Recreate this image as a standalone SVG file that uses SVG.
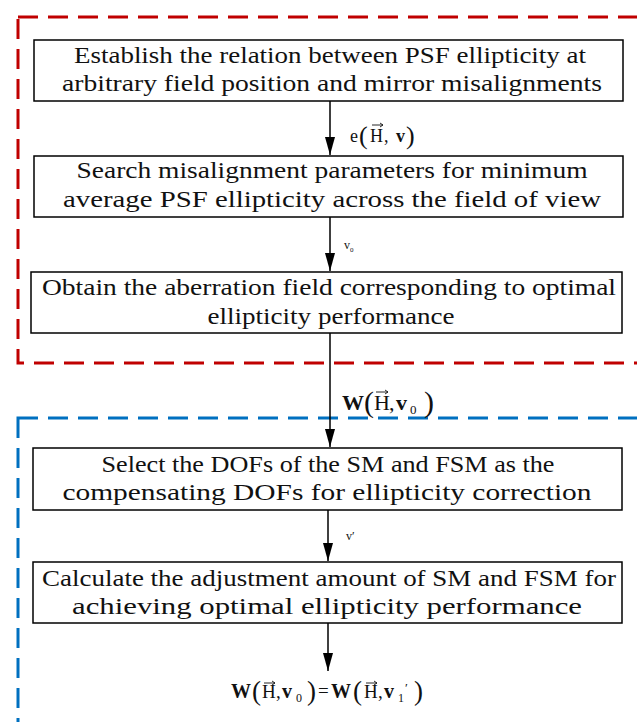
<svg xmlns="http://www.w3.org/2000/svg" width="637" height="722" viewBox="0 0 637 722">
<style>
.box{fill:#fff;stroke:#000;stroke-width:1.5}
.t{font-family:'Liberation Serif',serif;font-size:23px;fill:#111;text-anchor:middle}
.m{font-family:'Liberation Serif',serif;fill:#111}
.b{font-weight:bold}
.line{stroke:#000;stroke-width:1.5;fill:none}
.red{fill:none;stroke:#c00000;stroke-width:3;stroke-dasharray:20 10}
.blue{fill:none;stroke:#0070c0;stroke-width:3;stroke-dasharray:20 10}
.vec{stroke:#111;stroke-width:0.9;fill:none}
</style>
<rect class="red" x="18" y="17" width="640" height="346"/>
<rect class="blue" x="18" y="418" width="640" height="330"/>
<g id="connectors">
<line class="line" x1="330" y1="101" x2="330" y2="155"/>
<path d="M325,137 L335,137 L330,155 Z" fill="#000"/>
<line class="line" x1="330" y1="217" x2="330" y2="271"/>
<path d="M325,253 L335,253 L330,271 Z" fill="#000"/>
<line class="line" x1="330" y1="333" x2="330" y2="447"/>
<path d="M325,429 L335,429 L330,447 Z" fill="#000"/>
<line class="line" x1="328" y1="510" x2="328" y2="561"/>
<path d="M323,543 L333,543 L328,561 Z" fill="#000"/>
<line class="line" x1="328" y1="623" x2="328" y2="671"/>
<path d="M323,653 L333,653 L328,671 Z" fill="#000"/>
<g id="lbl1" class="m">
<text x="350" y="142" font-size="18">e</text>
<text x="359" y="144" font-size="26">(</text>
<text x="370" y="142" font-size="18">H</text>
<text x="384" y="142" font-size="18">,</text>
<text x="396" y="142" font-size="18" class="b">v</text>
<text x="406" y="144" font-size="26">)</text>
<path class="vec" d="M372,125 L383,125 M380,123 L383,125 L380,127"/>
</g>
<g id="lbl2">
<text class="m" x="344" y="249" font-size="12" fill="#555">v<tspan font-size="7" dy="3">0</tspan></text>
</g>
<g id="lbl3" class="m">
<text x="342" y="410" font-size="22" class="b">W</text>
<text x="364" y="412" font-size="30">(</text>
<text x="374" y="410" font-size="22">H</text>
<text x="389" y="410" font-size="22">,</text>
<text x="396" y="410" font-size="22" class="b">v</text>
<text x="410" y="414" font-size="13">0</text>
<text x="424" y="412" font-size="30">)</text>
<path class="vec" d="M376,392 L388,392 M385,390 L388,392 L385,394"/>
</g>
<g id="lbl4">
<text class="m" x="346" y="540" font-size="12" fill="#555">v′</text>
</g>
<g id="lbl5" class="m">
<text x="231" y="698" font-size="20" class="b">W</text>
<text x="252" y="700" font-size="27">(</text>
<text x="262" y="698" font-size="19">H</text>
<text x="276" y="698" font-size="19">,</text>
<text x="282" y="698" font-size="20" class="b">v</text>
<text x="296" y="702" font-size="12">0</text>
<text x="307" y="700" font-size="27">)</text>
<text x="318" y="697" font-size="19">=</text>
<text x="331" y="698" font-size="20" class="b">W</text>
<text x="353" y="700" font-size="27">(</text>
<text x="364" y="698" font-size="19">H</text>
<text x="378" y="698" font-size="19">,</text>
<text x="384" y="698" font-size="20" class="b">v</text>
<text x="398" y="702" font-size="12">1</text>
<text x="405" y="692" font-size="13">′</text>
<text x="414" y="700" font-size="27">)</text>
<path class="vec" d="M264,683 L275,683 M272,681 L275,683 L272,685"/>
<path class="vec" d="M366,683 L377,683 M374,681 L377,683 L374,685"/>
</g>
</g>
<g id="n1">
<rect class="box" x="34" y="40" width="589" height="61"/>
<text class="t" x="330" y="63" textLength="512" lengthAdjust="spacingAndGlyphs">Establish the relation between PSF ellipticity at</text>
<text class="t" x="332" y="91" textLength="540" lengthAdjust="spacingAndGlyphs">arbitrary field position and mirror misalignments</text>
</g>
<g id="n2">
<rect class="box" x="34" y="156" width="589" height="61"/>
<text class="t" x="332" y="178" textLength="511" lengthAdjust="spacingAndGlyphs">Search misalignment parameters for minimum</text>
<text class="t" x="332" y="207" textLength="538" lengthAdjust="spacingAndGlyphs">average PSF ellipticity across the field of view</text>
</g>
<g id="n3">
<rect class="box" x="31" y="272" width="591" height="61"/>
<text class="t" x="329" y="295" textLength="574" lengthAdjust="spacingAndGlyphs">Obtain the aberration field corresponding to optimal</text>
<text class="t" x="331" y="324" textLength="247" lengthAdjust="spacingAndGlyphs">ellipticity performance</text>
</g>
<g id="n4">
<rect class="box" x="33" y="448" width="589" height="62"/>
<text class="t" x="328" y="472" textLength="453" lengthAdjust="spacingAndGlyphs">Select the DOFs of the SM and FSM as the</text>
<text class="t" x="327" y="500" textLength="529" lengthAdjust="spacingAndGlyphs">compensating DOFs for ellipticity correction</text>
</g>
<g id="n5">
<rect class="box" x="33" y="562" width="589" height="61"/>
<text class="t" x="329" y="586" textLength="574" lengthAdjust="spacingAndGlyphs">Calculate the adjustment amount of SM and FSM for</text>
<text class="t" x="327" y="614" textLength="510" lengthAdjust="spacingAndGlyphs">achieving optimal ellipticity performance</text>
</g>
</svg>
